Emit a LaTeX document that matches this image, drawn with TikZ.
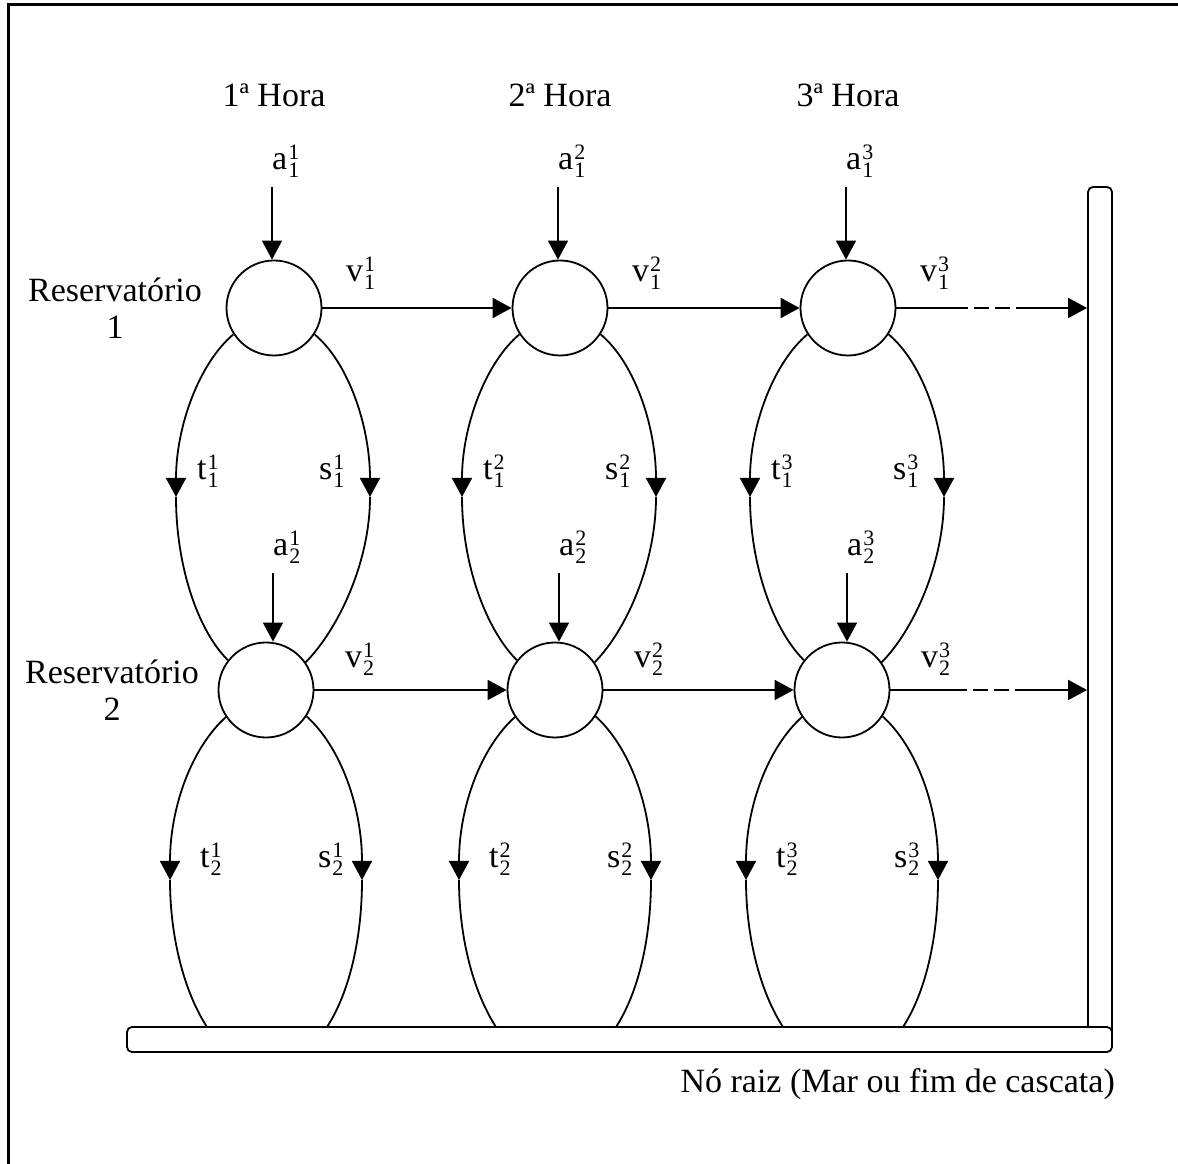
\documentclass[tikz,border=0pt]{standalone}
\usepackage{fontspec}
\setmainfont{Liberation Serif}
\usetikzlibrary{arrows.meta}
\newcommand{\lbl}[3]{#1\hspace{1pt}\rlap{\raisebox{10pt}{\fontsize{22}{22}\selectfont #2}}\raisebox{-8pt}{\fontsize{22}{22}\selectfont #3}}
\begin{document}
\begin{tikzpicture}[x=1pt,y=1pt,
  every node/.style={font=\fontsize{34}{37}\selectfont, inner sep=0pt},
  lab/.style={inner sep=0pt, anchor=base west},
  res/.style={circle, draw, line width=1.8pt, minimum size=95pt, inner sep=0pt},
  arr/.style={line width=1.8pt, -{Triangle[length=19pt,width=20pt]}},
  ln/.style={line width=1.8pt},
  bar/.style={draw, line width=1.8pt, rounded corners=5pt, fill=white, inner sep=0pt},
  dsh/.style={line width=1.8pt, dash pattern=on 15pt off 6pt, dash phase=15pt}]
\useasboundingbox (0,0) rectangle (1178,1164);
\draw[line width=3pt] (8,0) -- (8,1159) -- (1178,1159);
% bars
\node[bar, minimum width=24pt, minimum height=853pt] (vbar) at (1100,1164-613.5) {};
\node[bar, minimum width=985pt, minimum height=25pt] (hbar) at (619.5,1164-1039.5) {};
% columns
\foreach \k/\tx/\bx in {1/274/266,2/560/555,3/848/842}{
  \node[res] (c1\k) at (\tx,856) {};
  \node[res] (c2\k) at (\bx,474) {};
  \node[anchor=base] (h\k) at (\tx,1164-107) {{\k}ª Hora};
  \node[lab] (a1\k) at (\tx-2,1164-170) {\lbl{a}{\k}{1}};
  \node[lab] (a2\k) at (\tx-1,1164-556) {\lbl{a}{\k}{2}};
  \node[lab] (v1\k) at (\tx+72,1164-282) {\lbl{v}{\k}{1}};
  \node[lab] (v2\k) at (\bx+79,1164-668) {\lbl{v}{\k}{2}};
  \node[lab] (t1\k) at (\tx-77,1164-480) {\lbl{t}{\k}{1}};
  \node[lab] (s1\k) at (\tx+45,1164-480) {\lbl{s}{\k}{1}};
  \node[lab] (t2\k) at (\bx-66,1164-868) {\lbl{t}{\k}{2}};
  \node[lab] (s2\k) at (\bx+52,1164-868) {\lbl{s}{\k}{2}};
  \draw[arr] ([yshift=-9pt]a1\k.south west) -- (a1\k.south west |- c1\k.north);
  \draw[arr] ([yshift=-9pt]a2\k.south west) -- (a2\k.south west |- c2\k.north);
  \coordinate (ml\k) at (\tx-98,1164-497);
  \coordinate (mr\k) at (\tx+96,1164-497);
  \coordinate (ll\k) at (\bx-96,1164-880);
  \coordinate (lr\k) at (\bx+96,1164-880);
  \coordinate (fl\k) at (\bx-59,1164-1027);
  \coordinate (fr\k) at (\bx+61,1164-1027);
  \draw[arr] (c1\k.213) to[out=220,in=90,out distance=45pt,in distance=70pt] (ml\k);
  \draw[ln] (ml\k) to[out=-90,in=135,out distance=67pt,in distance=44pt] (c2\k.142);
  \draw[arr] (c1\k.327) to[out=-40,in=90,out distance=45pt,in distance=70pt] (mr\k);
  \draw[ln] (mr\k) to[out=-90,in=45,out distance=67pt,in distance=44pt] (c2\k.35);
  \draw[arr] (c2\k.214) to[out=222,in=90,out distance=46pt,in distance=73pt] (ll\k);
  \draw[ln] (ll\k) to[out=-90,in=123,out distance=57pt,in distance=42pt] (fl\k);
  \draw[arr] (c2\k.327) to[out=-42,in=90,out distance=46pt,in distance=73pt] (lr\k);
  \draw[ln] (lr\k) to[out=-90,in=57,out distance=57pt,in distance=42pt] (fr\k);
}
% horizontal flows
\draw[arr] (c11) -- (c12);
\draw[arr] (c12) -- (c13);
\draw[arr] (c21) -- (c22);
\draw[arr] (c22) -- (c23);
\coordinate (d1a) at (968,856);
\coordinate (d1b) at (1030,856);
\coordinate (d2a) at (967,474);
\coordinate (d2b) at (1030,474);
\draw[ln] (c13.east) -- (d1a);
\draw[dsh] (d1a) -- (d1b);
\draw[arr] (d1b) -- (d1b -| vbar.west);
\draw[ln] (c23.east) -- (d2a);
\draw[dsh] (d2a) -- (d2b);
\draw[arr] (d2b) -- (d2b -| vbar.west);
% texts
\node[align=center] (r1) at (115,1164-308) {Reservatório\\1};
\node[align=center] (r2) at (112,1164-690) {Reservatório\\2};
\node[anchor=base east] (root) at (1115,1164-1093) {Nó raiz (Mar ou fim de cascata)};
\end{tikzpicture}
\end{document}
